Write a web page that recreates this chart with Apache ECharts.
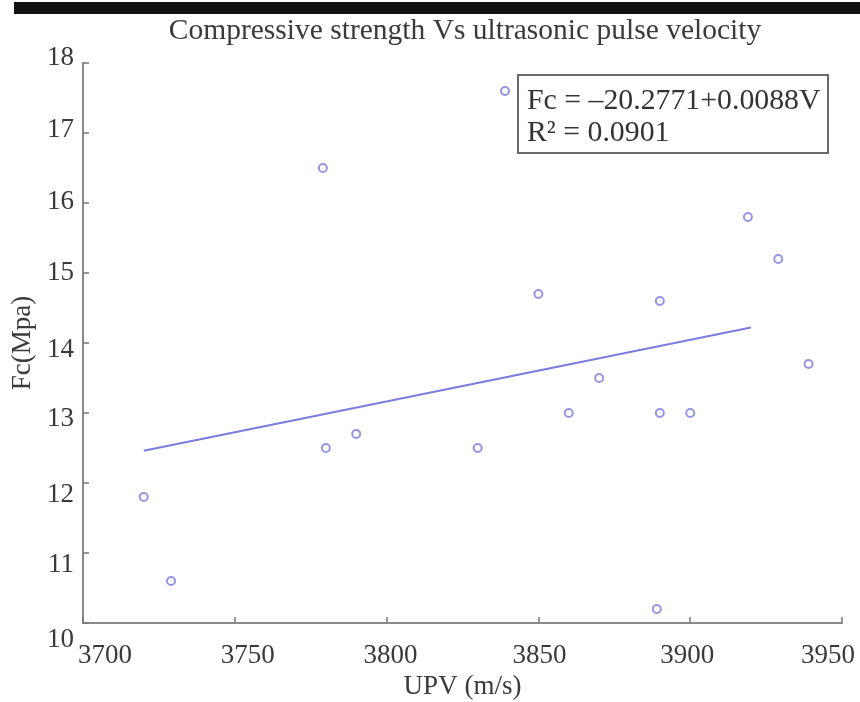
<!DOCTYPE html>
<html>
<head>
<meta charset="utf-8">
<script src="https://cdn.jsdelivr.net/npm/echarts@6/dist/echarts.min.js"></script>
<style>
html,body{margin:0;padding:0;background:#fff;}
#c{width:860px;height:702px;}
</style>
</head>
<body>
<div id="c"></div>
<script>
// ---- data ----
var titleText = 'Compressive strength Vs ultrasonic pulse velocity';
var xName = 'UPV (m/s)';
var yName = 'Fc(Mpa)';
var upv = [3720, 3729, 3779, 3780, 3790, 3830, 3839, 3850, 3860, 3870, 3890, 3890, 3889, 3900, 3919, 3929, 3939];
var fc  = [11.8, 10.6, 16.5, 12.5, 12.7, 12.5, 17.6, 14.7, 13.0, 13.5, 14.6, 13.0, 10.2, 13.0, 15.8, 15.2, 13.7];
var fitX = [3720, 3920];
var fitY = [12.46, 14.22];
var eqLine1 = 'Fc = \u201320.2771+0.0088V';
var eqLine2 = 'R\u00b2 = 0.0901';
var xTicks = [3700, 3750, 3800, 3850, 3900, 3950];
var yTicks = [10, 11, 12, 13, 14, 15, 16, 17, 18];

// ---- styling helpers (label nudges to mimic the reference) ----
var yShift = {10: 17, 11: 12, 12: 12, 13: 6, 14: 7, 15: 0, 16: -1, 17: -3, 18: -5};
var xShift = {3700: 22, 3750: 13, 3800: 4, 3850: 1, 3900: -3, 3950: -14};
var yRich = {}, xRich = {};
yTicks.forEach(function (v) {
  var d = yShift[v] || 0;
  yRich['y' + v] = {padding: d >= 0 ? [2 * d, 0, 0, 0] : [0, 0, -2 * d, 0], fontSize: 27, fontFamily: 'Liberation Serif', color: '#3a3a3a'};
});
xTicks.forEach(function (v) {
  var d = xShift[v] || 0;
  xRich['x' + v] = {padding: d >= 0 ? [0, 0, 0, 2 * d] : [0, -2 * d, 0, 0], fontSize: 27, fontFamily: 'Liberation Serif', color: '#3a3a3a'};
});

var pts = upv.map(function (x, i) { return [x, fc[i]]; });
var fitPts = fitX.map(function (x, i) { return [x, fitY[i]]; });

var col = '#7b7be0';
var chart = echarts.init(document.getElementById('c'), null, {renderer: 'canvas'});
chart.setOption({
  backgroundColor: '#fff',
  animation: false,
  grid: {left: 83, right: 18, top: 63, bottom: 79, containLabel: false, outerBoundsMode: 'none'},
  xAxis: {
    type: 'value', min: 3700, max: 3950, interval: 50,
    name: xName, nameLocation: 'middle', nameGap: 48,
    nameTextStyle: {fontSize: 27, fontFamily: 'Liberation Serif', color: '#3a3a3a'},
    axisLine: {show: true, lineStyle: {color: '#8a8a8a', width: 2}},
    axisTick: {show: true, inside: true, length: 6, lineStyle: {color: '#777', width: 1.5}},
    axisLabel: {margin: 19, rich: xRich, formatter: function (v) { return '{x' + v + '|' + v + '}'; }},
    splitLine: {show: false}
  },
  yAxis: {
    type: 'value', min: 10, max: 18, interval: 1,
    name: yName, nameLocation: 'middle', nameGap: 46, nameRotate: 90,
    nameTextStyle: {fontSize: 27, fontFamily: 'Liberation Serif', color: '#3a3a3a'},
    axisLine: {show: true, lineStyle: {color: '#8a8a8a', width: 2}},
    axisTick: {show: true, inside: true, length: 6, lineStyle: {color: '#777', width: 1.5}},
    axisLabel: {margin: 9, rich: yRich, formatter: function (v) { return '{y' + v + '|' + v + '}'; }},
    splitLine: {show: false}
  },
  series: [
    {
      type: 'line', data: fitPts, showSymbol: false, symbol: 'none',
      lineStyle: {color: col, width: 2}, silent: true, z: 2
    },
    {
      type: 'scatter', data: pts, symbol: 'emptyCircle', symbolSize: 8,
      itemStyle: {color: col, borderColor: col, borderWidth: 2}, z: 3
    }
  ],
  graphic: [
    {type: 'rect', left: 14, top: 2, shape: {width: 846, height: 12}, style: {fill: '#111'}, z: 10},
    {type: 'text', x: 465, y: 31, style: {text: titleText, fontSize: 29.5, fontFamily: 'Liberation Serif', fill: '#3a3a3a', textAlign: 'center', textVerticalAlign: 'middle'}, z: 10},
    {type: 'rect', shape: {x: 518, y: 75, width: 310, height: 78}, style: {fill: '#fff', stroke: '#6a6a6a', lineWidth: 2}, z: 10},
    {type: 'text', x: 527, y: 101, style: {text: eqLine1, fontSize: 29.8, fontFamily: 'Liberation Serif', fill: '#333', textAlign: 'left', textVerticalAlign: 'middle'}, z: 11},
    {type: 'text', x: 527, y: 133, style: {text: eqLine2, fontSize: 29.8, fontFamily: 'Liberation Serif', fill: '#333', textAlign: 'left', textVerticalAlign: 'middle'}, z: 11}
  ]
});
</script>
</body>
</html>
